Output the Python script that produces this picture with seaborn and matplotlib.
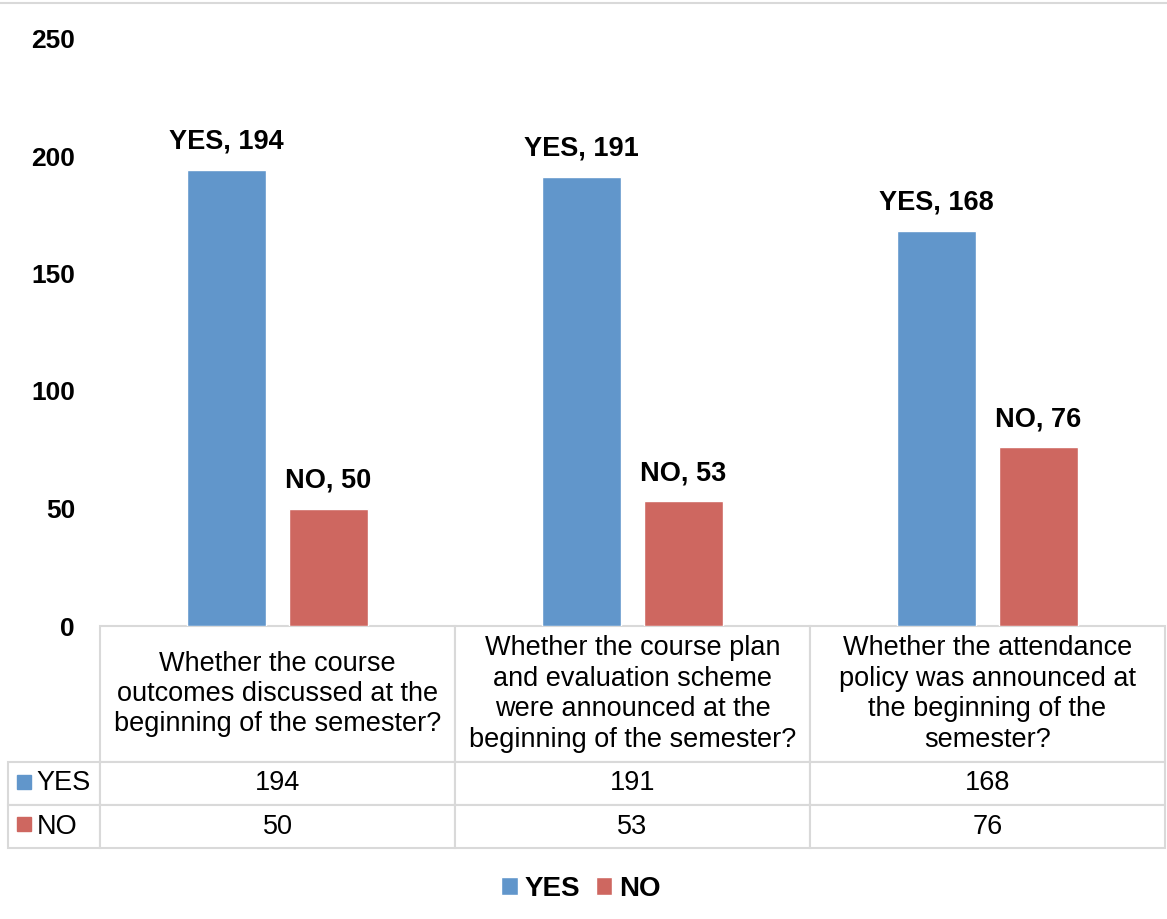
import seaborn as sns
import pandas as pd
import matplotlib.pyplot as plt
from matplotlib.lines import Line2D

# Survey answers per question
questions = [
    'Whether the course\noutcomes discussed at the\nbeginning of the semester?',
    'Whether the course plan\nand evaluation scheme\nwere announced at the\nbeginning of the semester?',
    'Whether the attendance\npolicy was announced at\nthe beginning of the\nsemester?',
]
answers = ['YES', 'NO']
yes_counts = [194, 191, 168]
no_counts = [50, 53, 76]
colors = ['#6196CB', '#CE6760']
yticks = [0, 50, 100, 150, 200, 250]

df = pd.DataFrame({
    'Question': questions * 2,
    'Answer': ['YES'] * 3 + ['NO'] * 3,
    'Count': yes_counts + no_counts,
})

sns.set_theme(style='white')
plt.rcParams['font.family'] = ['Liberation Sans', 'DejaVu Sans']
plt.rcParams['text.color'] = 'black'
plt.rcParams['ytick.color'] = 'black'

AX_H = 587.5  # axes height in px
fig = plt.figure(figsize=(11.67, 9.19), dpi=100)
ax = fig.add_axes([100 / 1167, 1 - 626 / 919, 1065 / 1167, AX_H / 919])

sns.barplot(x='Question', y='Count', hue='Answer', data=df, order=questions,
            hue_order=answers, palette=colors, width=0.575, gap=0.224,
            saturation=1, ax=ax)

# value labels above bars
for cont, ans in zip(ax.containers, answers):
    ax.bar_label(cont, labels=[f'{ans}, {int(b.get_height())}' for b in cont],
                 padding=11, fontsize=19.5, fontweight='bold', color='black')

ax.set_ylim(0, 250)
ax.set_yticks(yticks)
ax.set_yticklabels([str(t) for t in yticks], fontsize=19, fontweight='bold')
ax.tick_params(axis='y', length=0, pad=18)
ax.set_xticks([])
ax.set_xlabel('')
ax.set_ylabel('')
for s in ax.spines.values():
    s.set_visible(False)

# data table under the chart
first_w = 92 / 1065
cell_text = [[''] + questions,
             ['YES'] + [str(v) for v in yes_counts],
             ['NO'] + [str(v) for v in no_counts]]
tbl = ax.table(cellText=cell_text, cellLoc='center',
               colWidths=[first_w, 1 / 3, 1 / 3, 1 / 3],
               bbox=[-first_w, (626 - 848) / AX_H, 1 + first_w, 222 / AX_H])
tbl.auto_set_font_size(False)
tbl.set_fontsize(19.5)
row_h = [136, 43, 43]
for (r, c), cell in tbl.get_celld().items():
    cell.set_edgecolor('#D9D9D9')
    cell.set_linewidth(1.5)
    cell.set_height(row_h[r] / AX_H)
    cell.get_text().set_linespacing(1.22)
    if r == 0 and c == 0:
        cell.visible_edges = 'open'
    if c == 0 and r > 0:
        cell._loc = 'left'
        cell.PAD = 0.31
        cell.get_text().set_ha('left')

# colour keys in the table row labels
for y, col in zip([(626 - 782) / AX_H, (626 - 824) / AX_H], colors):
    ax.plot([(24 - 100) / 1065], [y], marker='s', markersize=10, color=col,
            transform=ax.transAxes, clip_on=False)

ax.set_xlim(-0.5, 2.5)
ax.set_ylim(0, 250)

sns.move_legend(ax, loc='center', bbox_to_anchor=((581 - 100) / 1065, (626 - 889) / AX_H),
                ncol=2, frameon=False, title=None,
                prop={'weight': 'bold', 'size': 20},
                handlelength=0.6, handleheight=0.6, handletextpad=0.25, columnspacing=0.55)

fig.add_artist(Line2D([0, 1], [1 - 3 / 919, 1 - 3 / 919], transform=fig.transFigure,
                      color='#D9D9D9', linewidth=1.5))

fig.savefig('out.png', dpi=100)
